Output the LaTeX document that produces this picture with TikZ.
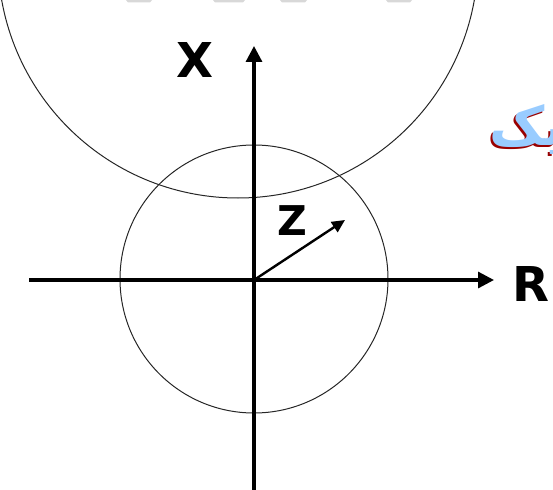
\documentclass[tikz,border=0pt]{standalone}
\usepackage{fontspec}
\usepackage{tikz}
\usetikzlibrary{positioning,arrows.meta}
\newfontfamily\labelfont{DejaVu Sans}
\newfontfamily\arabicfont[Script=Arabic]{DejaVu Sans}
\TeXXeTstate=1
\definecolor{markGray}{HTML}{D8D8D8}
\definecolor{wmBlue}{HTML}{99CCFF}
\definecolor{wmRed}{HTML}{990000}

\begin{document}
\begin{tikzpicture}[x=1pt, y=-1pt,
    axisLine/.style={line width=3.2pt, draw=black, -{Triangle[length=16pt,width=16pt]}},
    vecLine/.style={line width=2.4pt, draw=black, -{Triangle[length=13pt,width=12pt]}},
    circleLine/.style={line width=1pt, draw=black!85},
    axisLabel/.style={font=\labelfont\bfseries\fontsize{48}{48}\selectfont, inner sep=0pt},
    wmLabel/.style={anchor=base west, inner sep=0pt, font=\arabicfont\bfseries\fontsize{54}{54}\selectfont}
]
    \clip (0,0) rectangle (553,489);

    % Reste oben
    \fill[markGray] (126,0) -- (152,0) -- (150,2.5) -- (128,2.5) -- cycle;
    \fill[markGray] (213,0) -- (245,0) -- (243,2.5) -- (215,2.5) -- cycle;
    \fill[markGray] (280,0) -- (307,0) -- (305,2.5) -- (282,2.5) -- cycle;
    \fill[markGray] (386,0) -- (412,0) -- (410,2.5) -- (388,2.5) -- cycle;

    % Kreise
    \draw[circleLine] (238,-42) circle[radius=240];
    \draw[circleLine] (254,279) circle[radius=134];

    % Achsen
    \coordinate (O) at (254,280);
    \coordinate (rStart) at (29,280);
    \coordinate (rEnd) at (494,280);
    \coordinate (xStart) at (254,492);
    \coordinate (xEnd) at (254,46);
    \coordinate (zEnd) at (345,220);

    \draw[axisLine] (rStart) -- (rEnd);
    \draw[axisLine] (xStart) -- (xEnd);
    \draw[vecLine] (O) -- (zEnd);

    \node[axisLabel] (labX) at (195,60) {X};
    \node[axisLabel] (labR) at (531,284) {R};
    \node[axisLabel, font=\labelfont\bfseries\fontsize{41}{41}\selectfont] (labZ) at (292,221) {Z};

    % Wasserzeichen rechts
    \node[wmLabel, text=wmRed] (wmShadow) at (487,148) {\beginR الکترونیک\endR};
    \node[wmLabel, text=wmBlue] (wmText) at (489,146) {\beginR الکترونیک\endR};
\end{tikzpicture}
\end{document}
